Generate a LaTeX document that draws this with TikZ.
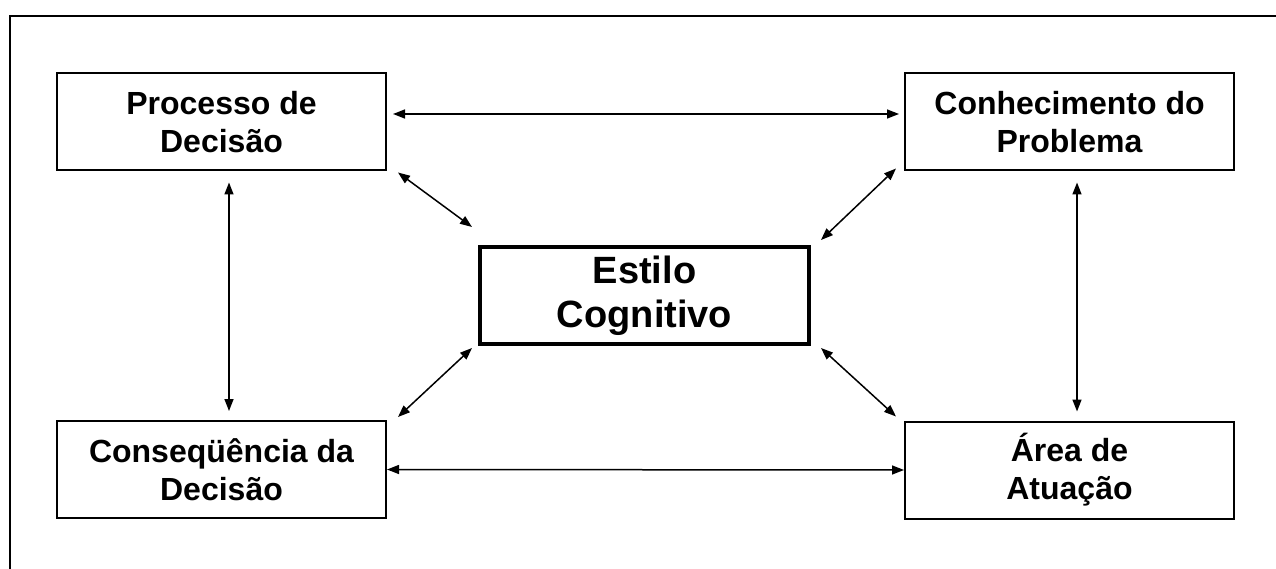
\documentclass[tikz,border=0pt]{standalone}
\usepackage{fontspec}
\setmainfont{Liberation Sans}
\usetikzlibrary{arrows.meta}
\begin{document}
\begin{tikzpicture}[x=1pt,y=-1pt,
  box/.style={draw, line width=2pt, minimum width=329pt, minimum height=97pt, align=center, inner sep=0pt,
    font=\bfseries\fontsize{32}{38}\selectfont},
  bigbox/.style={draw, line width=4pt, minimum width=329pt, minimum height=97pt, align=center, inner sep=0pt,
    font=\bfseries\fontsize{38}{44}\selectfont},
  arr/.style={line width=1.5pt, {Triangle[length=12pt,width=9pt]}-{Triangle[length=12pt,width=9pt]}}]
\useasboundingbox (0,0) rectangle (1276,569);
\draw[line width=2pt] (10,575) -- (10,16) -- (1280,16);
\node[box] (P) at (221.5,122) {Processo de\\Decisão};
\node[box] (C) at (1069.5,122) {Conhecimento do\\Problema};
\node[box] (Q) at (221.5,469.5) {Conseqüência da\\Decisão};
\node[box] (A) at (1069.5,470) {Área de\\Atuação};
\node[bigbox] (E) at (644.5,295.5) {Estilo\\Cognitivo};
\draw[arr] ([xshift=6pt,yshift=8pt]P.east) -- ([xshift=-5pt,yshift=8pt]C.west);
\draw[arr] (Q.east) -- (A.west);
\draw[arr] ([xshift=7.5pt,yshift=-11pt]P.south) -- ([xshift=7.5pt,yshift=9pt]Q.north);
\draw[arr] ([xshift=7.5pt,yshift=-11pt]C.south) -- ([xshift=7.5pt,yshift=9pt]A.north);
\draw[arr] ([xshift=11pt,yshift=-1pt]P.south east) -- ([xshift=-6pt,yshift=18pt]E.north west);
\draw[arr] ([xshift=-8pt,yshift=3pt]C.south west) -- ([xshift=10pt,yshift=5pt]E.north east);
\draw[arr] ([xshift=11pt,yshift=3pt]Q.north east) -- ([xshift=-6pt,yshift=-2pt]E.south west);
\draw[arr] ([xshift=-8pt,yshift=4pt]A.north west) -- ([xshift=10pt,yshift=-2pt]E.south east);
\end{tikzpicture}
\end{document}
